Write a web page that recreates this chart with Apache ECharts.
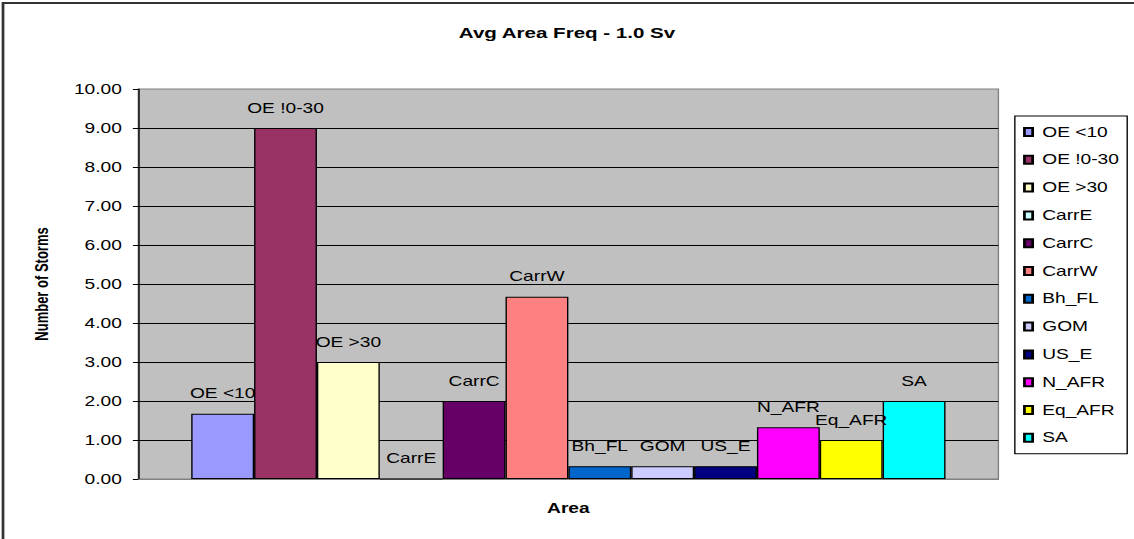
<!DOCTYPE html>
<html>
<head>
<meta charset="UTF-8">
<title>Avg Area Freq - 1.0 Sv</title>
<script src="https://cdn.jsdelivr.net/npm/echarts@6/dist/echarts.min.js"></script>
<style>
  html, body { margin: 0; padding: 0; background: #fff; overflow: hidden; }
  /* the source picture is stretched sideways, so the chart is drawn narrower and widened */
  #main { width: 828px; height: 539px; transform: scaleX(1.36957); transform-origin: 0 0; }
</style>
</head>
<body>
<div id="main"></div>
<script>
var areaNames = ['OE <10', 'OE !0-30', 'OE >30', 'CarrE', 'CarrC', 'CarrW', 'Bh_FL', 'GOM', 'US_E', 'N_AFR', 'Eq_AFR', 'SA'];
var stormCounts = [1.67, 9.00, 3.00, 0.00, 2.00, 4.67, 0.33, 0.33, 0.33, 1.33, 1.00, 2.00];
var barColors = ['#9999FF', '#993366', '#FFFFCC', '#CCFFFF', '#660066', '#FF8080', '#0066CC', '#CCCCFF', '#000080', '#FF00FF', '#FFFF00', '#00FFFF'];
var categories = [''];
var yMin = 0, yMax = 10, yStep = 1;

var font = "'Liberation Sans', Arial, sans-serif";

var series = [];
for (var i = 0; i < areaNames.length; i++) {
    series.push({
        name: areaNames[i],
        type: 'bar',
        barGap: '0%',
        barCategoryGap: '12.3%',
        data: [stormCounts[i]],
        itemStyle: { color: barColors[i], borderColor: '#000', borderWidth: 1 },
        label: {
            show: true,
            position: 'top',
            distance: 13,
            formatter: '{a}',
            color: '#000',
            fontFamily: font,
            fontSize: 14
        },
        emphasis: { disabled: true }
    });
}

var myChart = echarts.init(document.getElementById('main'), null, { renderer: 'svg' });

var option = {
    animation: false,
    backgroundColor: '#fff',
    title: {
        text: 'Avg Area Freq - 1.0 Sv',
        left: 'center',
        top: 25,
        padding: 0,
        textStyle: { fontFamily: font, fontSize: 15, fontWeight: 'bold', color: '#000' }
    },
    legend: {
        orient: 'vertical',
        left: 741,
        top: 116,
        padding: [9, 6, 9, 6],
        itemWidth: 6,
        itemHeight: 8,
        itemGap: 13.8,
        borderColor: '#000',
        borderWidth: 1,
        icon: 'rect',
        data: areaNames,
        textStyle: { fontFamily: font, fontSize: 14, lineHeight: 14, color: '#000', padding: [0, 0, 0, 2] },
        selectedMode: false
    },
    graphic: [{
        type: 'rect',
        shape: { x: 2.2, y: 3, width: 1000, height: 800 },
        style: { fill: 'none', stroke: '#333', lineWidth: 2 },
        silent: true
    }],
    grid: {
        left: 101,
        right: 99,
        top: 89,
        bottom: 60,
        show: true,
        backgroundColor: '#C0C0C0',
        borderColor: '#808080',
        borderWidth: 1
    },
    xAxis: {
        type: 'category',
        data: categories,
        name: 'Area',
        nameLocation: 'middle',
        nameGap: 22,
        nameTextStyle: { fontFamily: font, fontSize: 14, fontWeight: 'bold', color: '#000' },
        axisLine: { show: true, lineStyle: { color: '#808080' } },
        axisTick: { show: false },
        axisLabel: { show: false }
    },
    yAxis: {
        type: 'value',
        min: yMin,
        max: yMax,
        interval: yStep,
        name: 'Number of Storms',
        nameLocation: 'middle',
        nameGap: 64,
        nameTextStyle: { fontFamily: font, fontSize: 13, fontWeight: 'bold', color: '#000' },
        axisLine: { show: true, lineStyle: { color: '#000' } },
        axisTick: { show: true, length: 4, lineStyle: { color: '#000' } },
        axisLabel: {
            margin: 12,
            color: '#000',
            fontFamily: font,
            fontSize: 14,
            formatter: function (v) { return v.toFixed(2); }
        },
        splitLine: { show: true, showMinLine: false, showMaxLine: false, lineStyle: { color: '#000', width: 1 } }
    },
    series: series
};
myChart.setOption(option);
</script>
</body>
</html>
